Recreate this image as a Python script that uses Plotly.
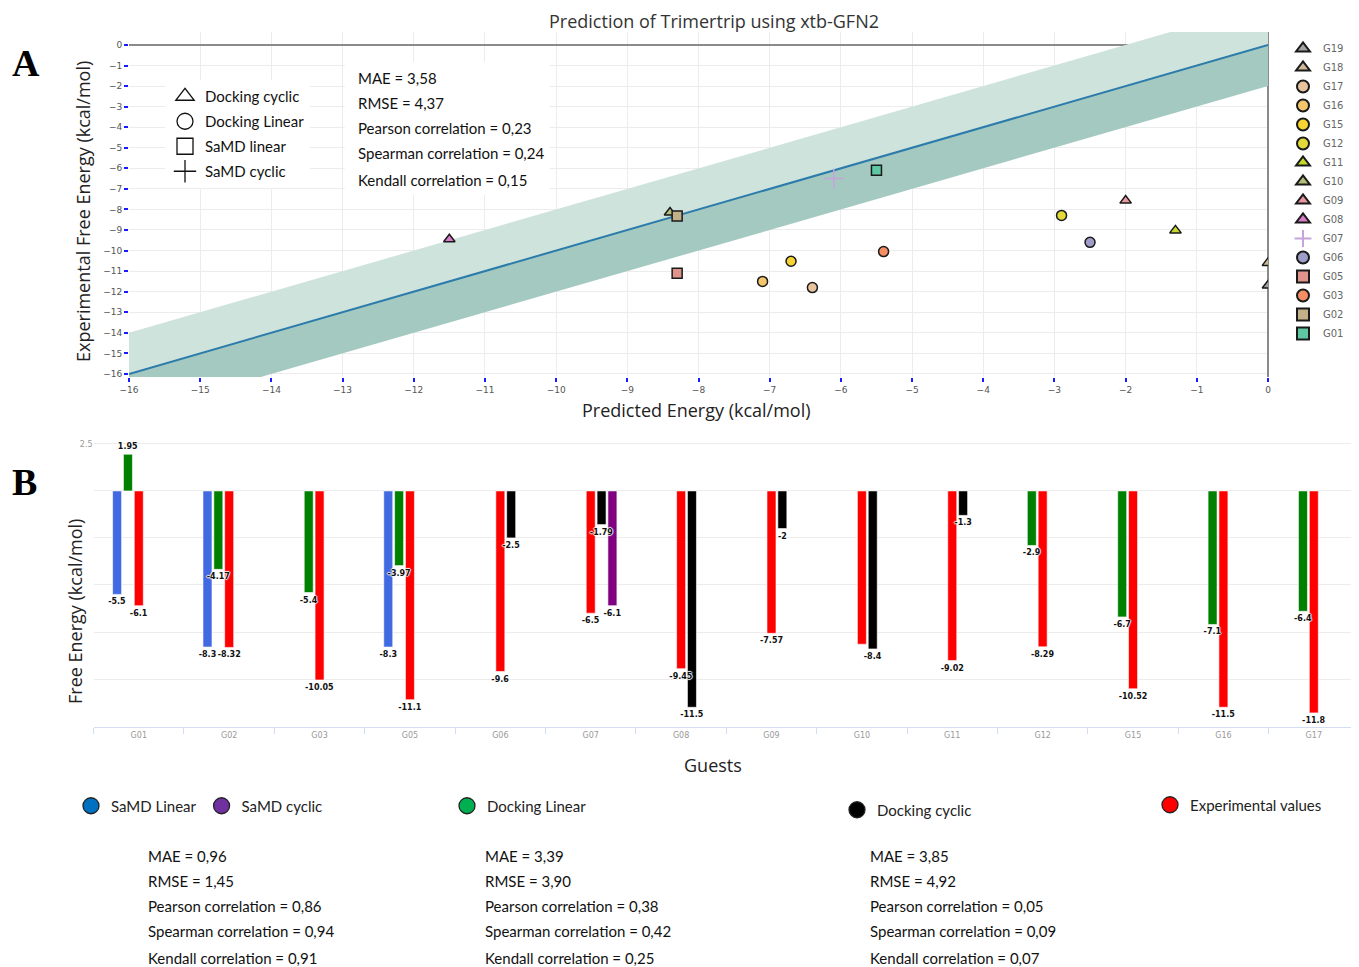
import plotly.graph_objects as go

# page body has an 8px margin: lay out in reference pixels, offset by it
OFF = 8
W, H = 1359 - OFF, 967 - OFF

# ---------------- Panel A data ----------------
sc_guests = ["G19", "G18", "G17", "G16", "G15", "G12", "G11", "G10",
             "G09", "G08", "G07", "G06", "G05", "G03", "G02", "G01"]
sc_method = ["Docking cyclic", "Docking cyclic", "Docking Linear", "Docking Linear",
             "Docking Linear", "Docking Linear", "Docking cyclic", "Docking cyclic",
             "Docking cyclic", "Docking cyclic", "SaMD cyclic", "Docking Linear",
             "SaMD linear", "Docking Linear", "SaMD linear", "SaMD linear"]
sc_predicted = [0.0, 0.0, -6.4, -7.1, -6.7, -2.9, -1.3, -8.4,
                -2.0, -11.5, -6.1, -2.5, -8.3, -5.4, -8.3, -5.5]
sc_experimental = [-11.7, -10.6, -11.8, -11.5, -10.52, -8.29, -9.02, -8.15,
                   -7.57, -9.45, -6.5, -9.6, -11.1, -10.05, -8.32, -6.1]
sc_colors = ["#a3a3a3", "#cdb899", "#e8c49e", "#f4c66c", "#f7d431", "#e3da3a",
             "#c5d82b", "#b3be78", "#e9979f", "#d67cc8", "#c6a3d8", "#9d9dc8",
             "#df938a", "#f58f63", "#c4b088", "#5ec8a2"]
method_names = ["Docking cyclic", "Docking Linear", "SaMD linear", "SaMD cyclic"]
method_symbols = ["triangle-up", "circle", "square", "cross-thin"]

statsA = ["MAE = 3,58", "RMSE = 4,37", "Pearson correlation = 0,23",
          "Spearman correlation = 0,24", "Kendall correlation = 0,15"]

band_x = [-16, 0]
band_width = 2

# ---------------- Panel B data ----------------
categories = ["G01", "G02", "G03", "G05", "G06", "G07", "G08", "G09",
              "G10", "G11", "G12", "G15", "G16", "G17"]
samd_linear = [-5.5, -8.3, None, -8.3, None, None, None, None,
               None, None, None, None, None, None]
docking_linear = [1.95, -4.17, -5.4, -3.97, None, None, None, None,
                  None, None, -2.9, -6.7, -7.1, -6.4]
experimental = [-6.1, -8.32, -10.05, -11.1, -9.6, -6.5, -9.45, -7.57,
                -8.15, -9.02, -8.29, -10.52, -11.5, -11.8]
docking_cyclic = [None, None, None, None, -2.5, -1.79, -11.5, -2,
                  -8.4, -1.3, None, None, None, None]
samd_cyclic = [None, None, None, None, None, -6.1, None, None,
               None, None, None, None, None, None]
exp_unlabelled = ["G10"]

bar_series = ["SaMD Linear", "Docking Linear", "Experimental values",
              "Docking cyclic", "SaMD cyclic"]
bar_colors = ["#4169e1", "#008000", "#ff0000", "#000000", "#800080"]

legend_names = ["SaMD Linear", "SaMD cyclic", "Docking Linear",
                "Docking cyclic", "Experimental values"]
legend_colors = ["#0070c0", "#7030a0", "#00b050", "#000000", "#ff0000"]

statsB = [
    ["MAE = 0,96", "RMSE = 1,45", "Pearson correlation = 0,86",
     "Spearman correlation = 0,94", "Kendall correlation = 0,91"],
    ["MAE = 3,39", "RMSE = 3,90", "Pearson correlation = 0,38",
     "Spearman correlation = 0,42", "Kendall correlation = 0,25"],
    ["MAE = 3,85", "RMSE = 4,92", "Pearson correlation = 0,05",
     "Spearman correlation = 0,09", "Kendall correlation = 0,07"],
]


def px(x):
    return (x - OFF) / W


def py(y):
    return 1 - (y - OFF) / H


fig = go.Figure()

# ---- bands and identity line ----
bx = band_x
fig.add_trace(go.Scatter(
    x=[bx[0], bx[1], bx[1], bx[0], bx[0]],
    y=[bx[0], bx[1], bx[1] + band_width, bx[0] + band_width, bx[0]],
    fill="toself", fillcolor="#cfe3dd", mode="none", showlegend=False,
    hoverinfo="skip", xaxis="x", yaxis="y"))
fig.add_trace(go.Scatter(
    x=[bx[0], bx[1], bx[1], bx[0], bx[0]],
    y=[bx[0], bx[1], bx[1] - band_width, bx[0] - band_width, bx[0]],
    fill="toself", fillcolor="#a4c9c1", mode="none", showlegend=False,
    hoverinfo="skip", xaxis="x", yaxis="y"))
fig.add_trace(go.Scatter(
    x=bx, y=bx, mode="lines", line=dict(color="#2b7bab", width=2),
    showlegend=False, hoverinfo="skip", xaxis="x", yaxis="y"))

# ---- guest points ----
for g, m, xv, yv, c in zip(sc_guests, sc_method, sc_predicted, sc_experimental, sc_colors):
    sym = method_symbols[method_names.index(m)]
    if sym == "cross-thin":
        marker = dict(symbol=sym, size=14, color=c, line=dict(color=c, width=1.5))
    else:
        marker = dict(symbol=sym, size=10, color=c, line=dict(color="#1a1a1a", width=1.5))
    fig.add_trace(go.Scatter(
        x=[xv], y=[yv], mode="markers", name=g, marker=marker,
        xaxis="x", yaxis="y", legend="legend"))

# ---- method symbol legend (panel A) ----
for m, sym in zip(method_names, method_symbols):
    fig.add_trace(go.Scatter(
        x=[None], y=[None], mode="markers", name=m, legendgroup=m,
        marker=dict(symbol=sym + "-open", size=16, color="#111",
                    line=dict(color="#111", width=1.3)),
        xaxis="x", yaxis="y", legend="legend2"))

# ---- bars (panel B) ----
series_vals = [samd_linear, docking_linear, experimental, docking_cyclic, samd_cyclic]
for name, vals, col in zip(bar_series, series_vals, bar_colors):
    fig.add_trace(go.Bar(
        x=categories, y=vals, name=name, offsetgroup=name,
        marker=dict(color=col, line=dict(color="white", width=0.6)),
        showlegend=False, xaxis="x2", yaxis="y2"))
# value labels drawn on top of all bars
halo = "1px 0 1px #fff, -1px 0 1px #fff, 0 1px 1px #fff, 0 -1px 1px #fff"
for name, vals in zip(bar_series, series_vals):
    texts = []
    for cat, v in zip(categories, vals):
        if v is None or (name == "Experimental values" and cat in exp_unlabelled):
            texts.append("")
        else:
            texts.append(f"{v:g}")
    fig.add_trace(go.Bar(
        x=categories, y=vals, name=name + " labels", offsetgroup=name,
        marker=dict(color="rgba(0,0,0,0)", line=dict(width=0)),
        text=texts, textposition="outside", cliponaxis=False, constraintext="none",
        textfont=dict(size=8, color="#111", family="DejaVu Sans", weight="bold",
                      shadow=halo),
        showlegend=False, hoverinfo="skip", xaxis="x2", yaxis="y2"))

# ---- bottom legends ----
legend_ids = ["legend3", "legend3", "legend4", "legend5", "legend6"]
for name, col, lid in zip(legend_names, legend_colors, legend_ids):
    fig.add_trace(go.Scatter(
        x=[None], y=[None], mode="markers", name=name,
        marker=dict(symbol="circle", size=16, color=col,
                    line=dict(color="#222", width=1.3)),
        xaxis="x2", yaxis="y2", legend=lid))

annotations = []


def ann(text, x, y, size, family="Open Sans", color="#222", xanchor="center",
        angle=0, bold=False):
    annotations.append(dict(text=f"<b>{text}</b>" if bold else text,
                            x=px(x), y=py(y), xref="paper", yref="paper",
                            xanchor=xanchor, yanchor="middle", textangle=angle,
                            showarrow=False,
                            font=dict(family=family, size=size, color=color)))


ann("A", 26, 63, 38, family="Liberation Serif", color="#000", bold=True)
ann("B", 24, 482, 38, family="Liberation Serif", color="#000", bold=True)
ann("Experimental Free Energy (kcal/mol)", 83, 212, 18, angle=-90)
ann("Predicted Energy (kcal/mol)", 696, 410, 18)
ann("Free Energy (kcal/mol)", 75, 612, 18, angle=-90)
ann("Guests", 713, 765, 18)
for i, s in enumerate(statsA):
    ann(s, 356, 78 + 25 * i + (2 if i == 4 else 0), 15, family="Lato",
        color="#111", xanchor="left")
for j, block in enumerate(statsB):
    x0 = [146, 483, 868][j]
    for i, s in enumerate(block):
        ann(s, x0, 856 + 25 * i + (2 if i == 4 else 0), 15, family="Lato",
            color="#111", xanchor="left")

tickA = dict(family="DejaVu Sans", size=9, color="#555")
legfont = dict(family="Lato", size=15, color="#222")

fig.update_layout(
    width=W, height=H,
    margin=dict(l=0, r=0, t=0, b=0, autoexpand=False),
    paper_bgcolor="white", plot_bgcolor="white",
    barmode="group", bargap=0.4, bargroupgap=0.17,
    title=dict(text="Prediction of Trimertrip using xtb-GFN2", x=px(714), y=py(22),
               xanchor="center", yanchor="middle", xref="paper", yref="paper",
               font=dict(family="Open Sans", size=18, color="#333")),
    xaxis=dict(domain=[px(129), px(1268)], range=[-16, 0], dtick=1, automargin=False,
               showgrid=True, gridcolor="#ececec", zeroline=True,
               zerolinecolor="#8a8a8a", zerolinewidth=1.5,
               ticks="outside", ticklen=4, tickwidth=2, tickcolor="#1a1aff",
               tickfont=tickA, showline=False, anchor="y"),
    yaxis=dict(domain=[py(377), py(32)], range=[-16.15, 0.63], dtick=1, automargin=False,
               showgrid=True, gridcolor="#ececec", zeroline=True,
               zerolinecolor="#8a8a8a", zerolinewidth=1.5,
               ticks="outside", ticklen=4, tickwidth=2, tickcolor="#1a1aff",
               tickfont=tickA, showline=False, anchor="x"),
    xaxis2=dict(domain=[px(93.6), 1.0], type="category", anchor="y2", automargin=False,
                showline=True, linecolor="#d3ddf3", linewidth=1,
                ticks="outside", tickson="boundaries", ticklen=6, tickcolor="#d3ddf3",
                showgrid=False, tickfont=dict(family="DejaVu Sans", size=8, color="#999")),
    yaxis2=dict(domain=[py(727), py(442)], range=[-12.55, 2.6], anchor="x2", automargin=False,
                tickvals=[-10, -7.5, -5, -2.5, 0, 2.5],
                ticktext=["", "", "", "", "", "2.5"],
                showgrid=True, gridcolor="#ececec", zeroline=False, showline=False,
                ticks="", tickfont=dict(family="DejaVu Sans", size=8, color="#999")),
    legend=dict(x=px(1283), y=py(34), xanchor="left", yanchor="top",
                itemsizing="constant", bgcolor="rgba(0,0,0,0)",
                font=dict(family="DejaVu Sans", size=10, color="#666"),
                tracegroupgap=0),
    legend2=dict(x=px(165), y=py(80), xanchor="left", yanchor="top",
                 bgcolor="white", tracegroupgap=2.5,
                 font=dict(family="Lato", size=15, color="#111")),
    legend3=dict(x=px(71), y=py(806), xanchor="left", yanchor="middle", orientation="h",
                 bgcolor="rgba(0,0,0,0)", font=legfont),
    legend4=dict(x=px(447), y=py(806), xanchor="left", yanchor="middle", orientation="h",
                 bgcolor="rgba(0,0,0,0)", font=legfont),
    legend5=dict(x=px(837), y=py(810), xanchor="left", yanchor="middle", orientation="h",
                 bgcolor="rgba(0,0,0,0)", font=legfont),
    legend6=dict(x=px(1150), y=py(805), xanchor="left", yanchor="middle", orientation="h",
                 bgcolor="rgba(0,0,0,0)", font=legfont),
    annotations=annotations,
    shapes=[dict(type="rect", xref="x", yref="y", x0=-12.97, x1=-10.09, y0=-7.3, y1=-0.83,
                 fillcolor="white", line=dict(width=0), layer="between")],
)

fig.write_html("out.html")
